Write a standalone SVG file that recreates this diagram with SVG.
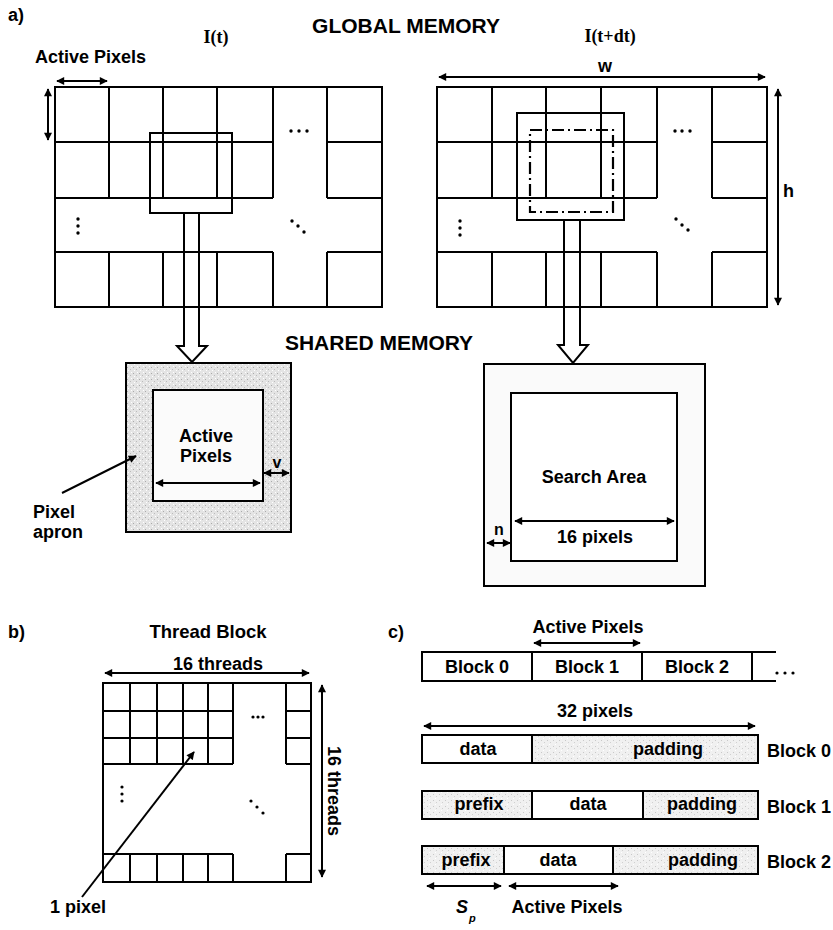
<svg xmlns="http://www.w3.org/2000/svg" width="833" height="930" viewBox="0 0 833 930">
<style>
.ln{fill:none;stroke:#000;stroke-width:2}
.t{font-family:"Liberation Sans",Arial,sans-serif;font-weight:bold;font-size:18px;fill:#000}
.c{text-anchor:middle}
.big{font-size:21px}
.serif{font-family:"Liberation Serif","Times New Roman",serif;font-weight:bold;font-size:18px}
.arr{fill:none;stroke:#000;stroke-width:2;marker-start:url(#ah);marker-end:url(#ah)}
.arr1{fill:none;stroke:#000;stroke-width:2;marker-end:url(#ah)}
.dot{fill:#000}
</style>
<defs>
<marker id="ah" viewBox="0 0 10 10" refX="9" refY="5" markerWidth="9" markerHeight="8" markerUnits="userSpaceOnUse" orient="auto-start-reverse">
<path d="M0,0 L10,5 L0,10 Z" fill="#000"/>
</marker>
<pattern id="stip" width="6" height="6" patternUnits="userSpaceOnUse">
<rect width="6" height="6" fill="#e4e4e4"/>
<rect x="1" y="1" width="1" height="1" fill="#aaa"/>
<rect x="4" y="3" width="1" height="1" fill="#bbb"/>
<rect x="2" y="4" width="1" height="1" fill="#fff"/>
<rect x="5" y="0" width="1" height="1" fill="#fff"/>
</pattern>
<pattern id="stipl" width="6" height="6" patternUnits="userSpaceOnUse">
<rect width="6" height="6" fill="#f0f0f0"/>
<rect x="1" y="2" width="1" height="1" fill="#c8c8c8"/>
<rect x="4" y="4" width="1" height="1" fill="#d0d0d0"/>
<rect x="3" y="0" width="1" height="1" fill="#fff"/>
</pattern>
</defs>

<rect width="833" height="930" fill="#fff"/>

<!-- Titles -->
<g id="titles">
<text class="t" x="8" y="21">a)</text>
<text class="t big c" x="406" y="33">GLOBAL MEMORY</text>
<text class="serif c" x="216" y="43">I(t)</text>
<text class="serif c" x="610" y="42">I(t+dt)</text>
<text class="t big c" x="379" y="350">SHARED MEMORY</text>
</g>

<!-- Left global grid I(t) -->
<g id="grid-it">
<rect class="ln" x="55" y="87" width="327" height="220"/>
<path class="ln" d="M55,142H273M327,142H382M55,198H273M327,198H382M55,252H273M327,252H382
M109,87V198M163,87V198M217,87V198M273,87V198M327,87V198
M109,252V307M163,252V307M217,252V307M273,252V307M327,252V307"/>
<circle class="dot" cx="291" cy="131" r="1.7"/><circle class="dot" cx="299" cy="131" r="1.7"/><circle class="dot" cx="307" cy="131" r="1.7"/>
<circle class="dot" cx="78" cy="219" r="1.7"/><circle class="dot" cx="78" cy="226" r="1.7"/><circle class="dot" cx="78" cy="233" r="1.7"/>
<circle class="dot" cx="292" cy="221" r="1.7"/><circle class="dot" cx="298" cy="226" r="1.7"/><circle class="dot" cx="304" cy="232" r="1.7"/>
<rect class="ln" x="150" y="133" width="82" height="80"/>
</g>

<g id="label-active-top">
<text class="t" x="35" y="63">Active Pixels</text>
</g>

<!-- Right global grid I(t+dt) -->
<g id="grid-itdt">
<rect class="ln" x="437" y="87" width="330" height="220"/>
<path class="ln" d="M437,142H657M712,142H767M437,198H657M712,198H767M437,252H657M712,252H767
M492,87V198M546,87V198M601,87V198M657,87V198M712,87V198
M492,252V307M546,252V307M601,252V307M657,252V307M712,252V307"/>
<circle class="dot" cx="675" cy="131" r="1.7"/><circle class="dot" cx="682" cy="131" r="1.7"/><circle class="dot" cx="690" cy="131" r="1.7"/>
<circle class="dot" cx="460" cy="221" r="1.7"/><circle class="dot" cx="460" cy="228" r="1.7"/><circle class="dot" cx="460" cy="235" r="1.7"/>
<circle class="dot" cx="676" cy="219" r="1.7"/><circle class="dot" cx="682" cy="225" r="1.7"/><circle class="dot" cx="688" cy="230" r="1.7"/>
<rect class="ln" x="517" y="113" width="107" height="107"/>
<rect x="530" y="130" width="83" height="82" fill="none" stroke="#000" stroke-width="2.2" stroke-dasharray="12 4 2 4"/>
<text class="t c" x="605" y="72">w</text>
<text class="t" x="783" y="197">h</text>
</g>

<!-- Shared memory left -->
<g id="shared-left">
<rect x="126" y="363" width="165" height="169" fill="url(#stip)" stroke="#000" stroke-width="2"/>
<rect x="153" y="390" width="110" height="111" fill="#fbfbfb" stroke="#000" stroke-width="2"/>
<text class="t c" x="206" y="442">Active</text>
<text class="t c" x="206" y="462">Pixels</text>
<text class="t c" x="277" y="468" style="font-size:16px">v</text>
<text class="t" x="33" y="518">Pixel</text>
<text class="t" x="33" y="538">apron</text>
</g>

<!-- Shared memory right -->
<g id="shared-right">
<rect x="484" y="364" width="221" height="222" fill="#fafafa" stroke="#000" stroke-width="2"/>
<rect x="511" y="393" width="166" height="168" fill="#fff" stroke="#000" stroke-width="2"/>
<text class="t c" x="594" y="483">Search Area</text>
<text class="t c" x="595" y="543">16 pixels</text>
<text class="t c" x="499" y="535" style="font-size:16px">n</text>
</g>

<!-- b) Thread block -->
<g id="thread-block">
<text class="t" x="8" y="638">b)</text>
<text class="t c" x="208" y="638" style="font-size:18.5px">Thread Block</text>
<text class="t c" x="218" y="670">16 threads</text>
<text class="t c" transform="translate(328,791) rotate(90)" x="0" y="0">16 threads</text>
<rect class="ln" x="103" y="683" width="208" height="199"/>
<path class="ln" d="M103,711H233M286,711H311M103,738H233M286,738H311M103,764H233M286,764H311
M130,683V764M157,683V764M183,683V764M208,683V764M233,683V764M286,683V764
M103,854H233M286,854H311M130,854V882M157,854V882M183,854V882M208,854V882M233,854V882M286,854V882"/>
<circle class="dot" cx="253" cy="717" r="1.6"/><circle class="dot" cx="258" cy="717" r="1.6"/><circle class="dot" cx="263" cy="717" r="1.6"/>
<circle class="dot" cx="122" cy="787" r="1.6"/><circle class="dot" cx="122" cy="794" r="1.6"/><circle class="dot" cx="122" cy="801" r="1.6"/>
<circle class="dot" cx="251" cy="801" r="1.6"/><circle class="dot" cx="257" cy="807" r="1.6"/><circle class="dot" cx="263" cy="813" r="1.6"/>
<text class="t" x="50" y="913">1 pixel</text>
</g>

<!-- c) Block layout -->
<g id="block-row">
<text class="t" x="388" y="638">c)</text>
<text class="t c" x="588" y="633">Active Pixels</text>
<path class="ln" d="M776,652H422V681H776M532,652V681M642,652V681M752,652V681"/>
<text class="t c" x="477" y="673">Block 0</text>
<text class="t c" x="587" y="673">Block 1</text>
<text class="t c" x="697" y="673">Block 2</text>
<circle class="dot" cx="777" cy="673" r="1.6"/><circle class="dot" cx="785" cy="673" r="1.6"/><circle class="dot" cx="793" cy="673" r="1.6"/>
<text class="t c" x="595" y="717">32 pixels</text>
</g>

<g id="block0">
<rect x="532" y="735" width="226" height="28" fill="url(#stipl)"/>
<rect class="ln" x="422" y="735" width="336" height="28"/>
<path class="ln" d="M532,735V763"/>
<text class="t c" x="478" y="755">data</text>
<text class="t c" x="668" y="755">padding</text>
<text class="t" x="767" y="757">Block 0</text>
</g>

<g id="block1">
<rect x="422" y="791" width="110" height="28" fill="url(#stipl)"/>
<rect x="643" y="791" width="115" height="28" fill="url(#stipl)"/>
<rect class="ln" x="422" y="791" width="336" height="28"/>
<path class="ln" d="M532,791V819M643,791V819"/>
<text class="t c" x="479" y="810">prefix</text>
<text class="t c" x="588" y="810">data</text>
<text class="t c" x="702" y="810">padding</text>
<text class="t" x="767" y="813">Block 1</text>
</g>

<g id="block2">
<rect x="422" y="846" width="82" height="28" fill="url(#stipl)"/>
<rect x="613" y="846" width="145" height="28" fill="url(#stipl)"/>
<rect class="ln" x="422" y="846" width="336" height="28"/>
<path class="ln" d="M504,846V874M613,846V874"/>
<text class="t c" x="466" y="866">prefix</text>
<text class="t c" x="558" y="866">data</text>
<text class="t c" x="703" y="866">padding</text>
<text class="t" x="767" y="868">Block 2</text>
<text class="t" x="456" y="913" style="font-style:italic">S</text>
<text class="t" x="469" y="922" style="font-style:italic;font-size:11px">p</text>
<text class="t c" x="567" y="913">Active Pixels</text>
</g>

<!-- Connectors -->
<g id="connectors">
<path class="arr" d="M57,81H107"/>
<path class="arr" d="M48,89V140"/>
<path class="arr" d="M439,77H765"/>
<path class="arr" d="M778,89V305"/>
<path d="M184,213V346H177L192,362L207,346H199V213" fill="none" stroke="#000" stroke-width="2"/>
<path d="M564,220V345H558L573,363L588,345H580V220" fill="none" stroke="#000" stroke-width="2"/>
<path class="arr" d="M156,483H260"/>
<path class="arr" d="M264,473H289"/>
<path class="arr1" d="M62,493L136,456"/>
<path class="arr" d="M515,521H674"/>
<path class="arr" d="M487,543H510"/>
<path class="arr" d="M105,673H309"/>
<path class="arr" d="M322,685V877"/>
<path class="arr1" d="M82,897L194,752"/>
<path class="arr" d="M534,643H640"/>
<path class="arr" d="M424,726H755"/>
<path class="arr" d="M427,886H501"/>
<path class="arr" d="M509,886H618"/>
</g>
</svg>
